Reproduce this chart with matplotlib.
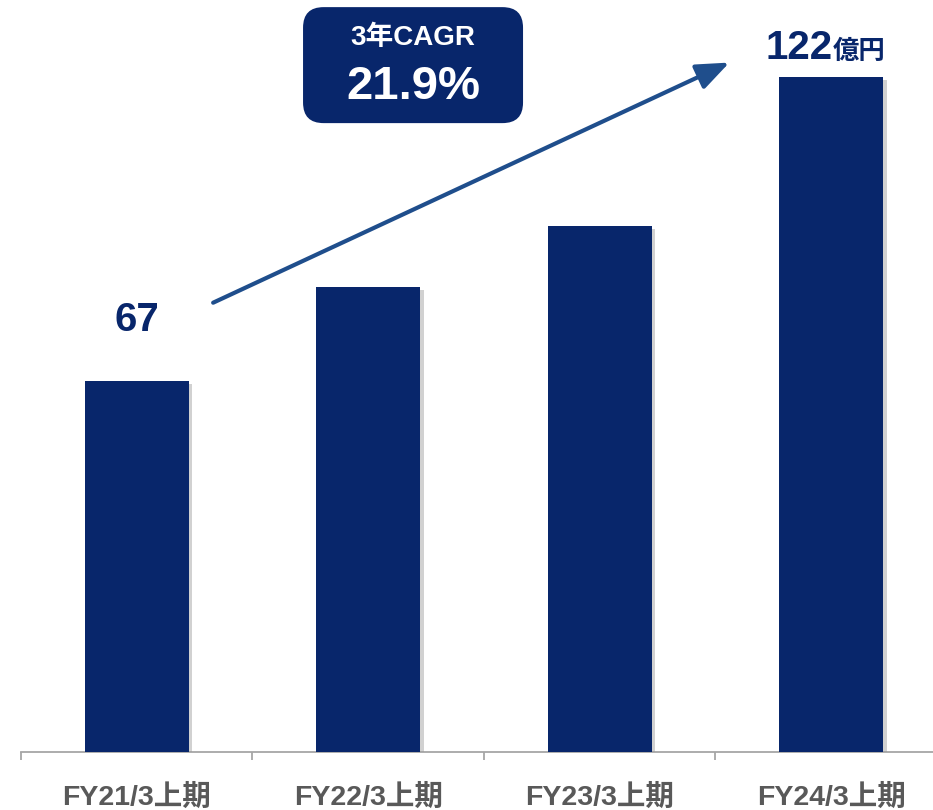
import matplotlib.pyplot as plt
import matplotlib.patheffects as pe
from matplotlib.patches import FancyBboxPatch

plt.rcParams['font.family'] = ['Liberation Sans', 'Noto Sans CJK JP', 'DejaVu Sans']

periods = ['FY21/3上期', 'FY22/3上期', 'FY23/3上期', 'FY24/3上期']
sales = [67, 84, 95, 122]
cagr_title = '3年CAGR'
cagr_value = '21.9%'
unit = '億円'

navy = '#08266B'
arrow_col = '#1F4E8C'
grey = '#595959'

fig = plt.figure(figsize=(9.33, 8.1), dpi=100)
ax = fig.add_axes([0.0225, 0.0716, 0.9925, 0.886])

x = range(len(periods))
bars = ax.bar(x, sales, width=0.45, color=navy, zorder=3)
for b in bars:
    b.set_path_effects([pe.SimplePatchShadow(offset=(2.5, -2), shadow_rgbFace='#9a9a9a', alpha=0.45),
                        pe.Normal()])

ax.set_xlim(-0.5, 3.5)
ax.set_ylim(0, 129.7)

for s in ['top', 'right', 'left']:
    ax.spines[s].set_visible(False)
ax.spines['bottom'].set_color('#A6A6A6')
ax.spines['bottom'].set_linewidth(1.3)
ax.set_yticks([])
ax.set_xticks(list(x))
ax.set_xticklabels(periods, fontsize=20.5, fontweight='bold', color=grey)
ax.tick_params(axis='x', which='major', length=0, pad=23)
ax.set_xticks([-0.5, 0.5, 1.5, 2.5], minor=True)
ax.tick_params(axis='x', which='minor', length=6, width=1.3, color='#A6A6A6')

# first and last values
ax.text(0, sales[0] + 9, str(sales[0]), ha='center', va='baseline',
        fontsize=29, fontweight='bold', color=navy)
ax.text(3.005, sales[3] + 3.3, str(sales[3]), ha='right', va='baseline',
        fontsize=29, fontweight='bold', color=navy)
ax.text(3.005, sales[3] + 3.3, unit, ha='left', va='baseline',
        fontsize=19, fontweight='bold', color=navy)

# growth arrow
ax.annotate('', xy=(2.56, sales[3] + 2.6), xytext=(0.33, sales[0] + 14.2),
            arrowprops=dict(arrowstyle='-|>,head_length=1.0,head_width=0.4',
                            mutation_scale=20, lw=3, color=arrow_col,
                            shrinkA=0, shrinkB=0),
            annotation_clip=False)

# CAGR box
box = FancyBboxPatch((0.3248, 0.848), 0.2358, 0.1432,
                     boxstyle='round,pad=0,rounding_size=0.022',
                     mutation_aspect=933 / 810,
                     transform=fig.transFigure, facecolor=navy, edgecolor='none')
fig.patches.append(box)
fig.text(0.4427, 0.953, cagr_title, ha='center', va='center',
         fontsize=20, fontweight='bold', color='white')
fig.text(0.4427, 0.8926, cagr_value, ha='center', va='center',
         fontsize=34, fontweight='bold', color='white')

fig.savefig('out.png', dpi=100)
